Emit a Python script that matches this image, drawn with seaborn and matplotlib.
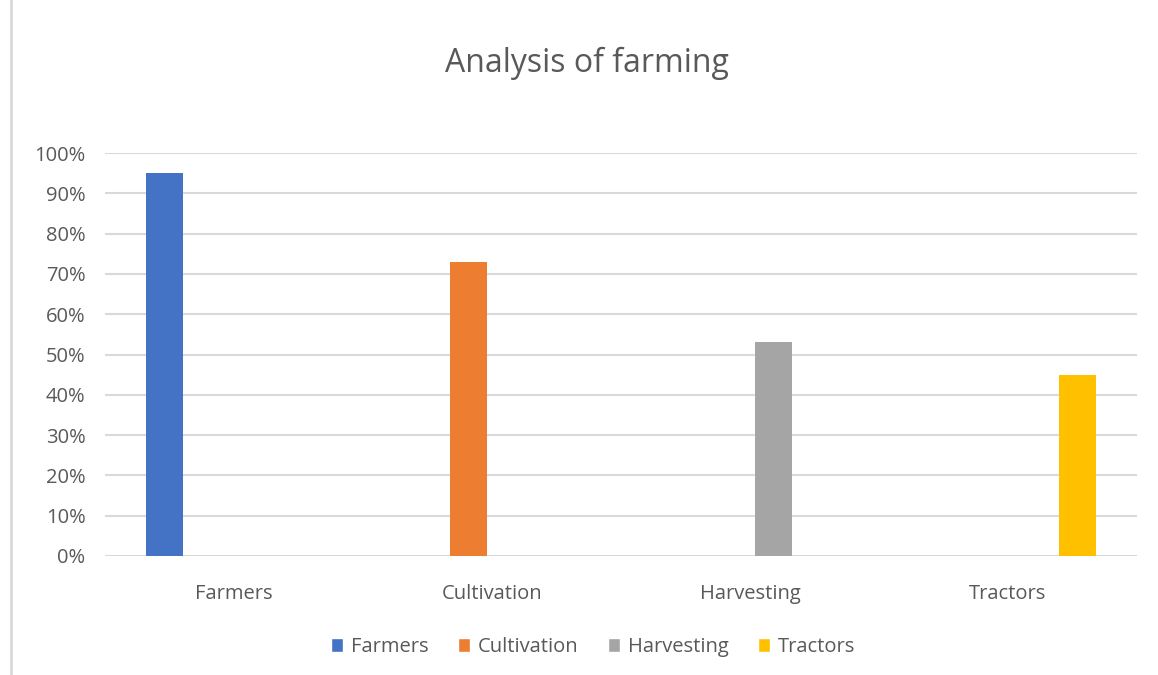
import pandas as pd
import numpy as np
import seaborn as sns
import matplotlib.pyplot as plt
from matplotlib.lines import Line2D
from matplotlib.patches import Patch
from matplotlib.ticker import PercentFormatter

sns.set_theme(style="white")
plt.rcParams['font.family'] = ['Open Sans', 'DejaVu Sans']

categories = ['Farmers', 'Cultivation', 'Harvesting', 'Tractors']
shares = [0.95, 0.73, 0.53, 0.45]
colors = ['#4472C4', '#ED7D31', '#A5A5A5', '#FFC000']

df = pd.DataFrame({'category': categories, 'series': categories, 'share': shares})

fig = plt.figure(figsize=(11.58, 6.75), dpi=100)
ax = fig.add_axes([0.0907, 0.1763, 0.8912, 0.597])

sns.barplot(data=df, x='category', y='share', hue='series', hue_order=categories,
            palette=colors, dodge=True, width=0.72, gap=0.2, saturation=1,
            linewidth=0, legend=False, ax=ax)

ax.set_ylim(0, 1)
ax.set_yticks(np.arange(0, 1.01, 0.1))
ax.yaxis.set_major_formatter(PercentFormatter(1.0, decimals=0))
ax.grid(axis='y', color='#d9d9d9', linewidth=1.5)
ax.set_axisbelow(True)
for s in ax.spines.values():
    s.set_visible(False)
ax.set_xlabel('')
ax.set_ylabel('')
ax.tick_params(axis='y', labelsize=14.5, labelcolor='#595959', pad=14, length=0)
ax.tick_params(axis='x', labelsize=14.5, labelcolor='#595959', pad=20, length=0)

fig.text(0.507, 0.906, 'Analysis of farming', ha='center', va='center',
         fontsize=23, color='#595959')

handles = [Patch(facecolor=c, label=l) for c, l in zip(colors, categories)]
ax.legend(handles=handles, loc='center', bbox_to_anchor=(0.512, 0.042),
          bbox_transform=fig.transFigure, ncol=4, frameon=False,
          fontsize=14.5, labelcolor='#595959', handlelength=0.6,
          handleheight=0.7, handletextpad=0.4, columnspacing=1.45)

fig.add_artist(Line2D([0.0095, 0.0095], [0.0, 1.0], transform=fig.transFigure,
                      color='#d9d9d9', linewidth=2))

fig.savefig('out.png', dpi=100)
